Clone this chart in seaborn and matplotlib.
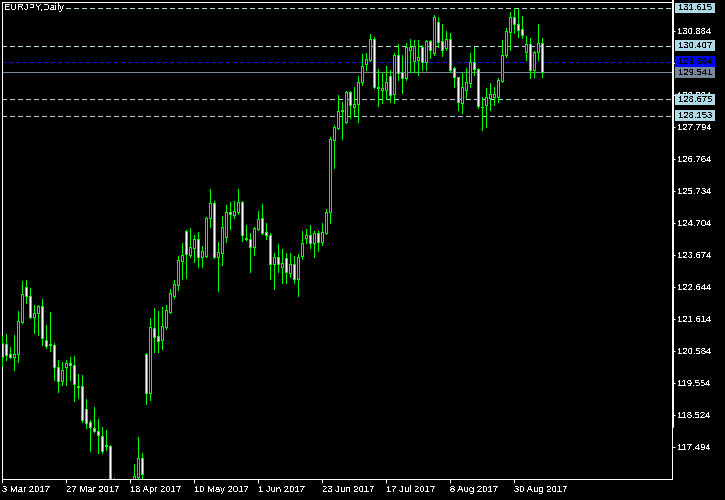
import numpy as np
import matplotlib
matplotlib.use("Agg")
import matplotlib.pyplot as plt
import matplotlib.transforms as mtransforms
from matplotlib.patches import Rectangle
from matplotlib.lines import Line2D
import seaborn as sns

# ---------------- data ----------------
symbol_title = "EURJPY,Daily"

opens = [
    120.83, 120.80, 120.48, 120.38, 120.48, 121.51, 122.64, 122.35, 121.67, 121.80,
    122.02, 120.93, 120.77, 120.77, 120.06, 119.61, 120.06, 120.19, 120.12, 119.45,
    119.45, 118.71, 118.29, 118.10, 118.00, 117.84, 117.52, 117.52, 116.15, 115.85,
    115.45, 115.30, 115.60, 115.95, 116.51, 117.13, 120.47, 119.22, 121.31, 121.06,
    120.93, 121.35, 121.83, 122.35, 122.70, 123.47, 124.44, 123.66, 123.89, 124.18,
    123.60, 123.63, 124.86, 125.34, 123.60, 123.73, 124.24, 125.05, 124.95, 125.05,
    125.37, 124.18, 124.18, 123.92, 124.50, 124.86, 124.41, 124.31, 123.38, 123.60,
    123.28, 123.57, 123.09, 123.38, 122.89, 123.63, 124.21, 124.31, 124.05, 124.37,
    124.08, 124.37, 125.05, 127.37, 127.75, 128.30, 127.94, 128.91, 128.43, 128.52,
    129.23, 129.81, 129.94, 130.62, 129.07, 128.97, 128.97, 129.43, 128.85, 130.10,
    129.55, 129.36, 130.26, 129.91, 129.94, 130.36, 129.88, 130.55, 130.17, 131.16,
    130.55, 130.33, 130.62, 129.68, 129.39, 128.56, 128.97, 129.20, 129.88, 129.65,
    128.43, 128.49, 128.72, 128.75, 128.75, 129.26, 130.10, 130.84, 131.32, 131.10,
    130.94, 130.20, 130.46, 129.62, 130.20, 130.49]

closes = [
    120.38, 120.45, 120.38, 120.48, 121.54, 122.41, 122.35, 121.67, 121.80, 122.02,
    120.99, 120.73, 120.80, 120.06, 119.61, 119.96, 120.19, 120.12, 119.51, 119.42,
    118.35, 118.26, 118.13, 118.00, 117.87, 117.36, 117.55, 116.15, 115.85, 115.45,
    115.30, 115.60, 115.90, 116.55, 117.13, 116.61, 119.22, 121.35, 121.02, 120.90,
    121.38, 121.89, 122.44, 122.73, 123.50, 123.66, 123.70, 123.92, 124.18, 123.60,
    123.79, 124.86, 125.34, 123.60, 123.76, 124.57, 125.05, 124.98, 125.08, 125.37,
    124.31, 124.21, 123.92, 124.53, 124.82, 124.37, 124.31, 123.38, 123.60, 123.38,
    123.41, 123.12, 123.38, 122.89, 123.60, 124.05, 124.31, 124.05, 124.37, 124.08,
    124.41, 125.05, 127.40, 127.78, 128.30, 128.33, 128.91, 128.49, 128.52, 129.23,
    129.75, 129.97, 130.62, 129.07, 129.04, 129.04, 129.23, 128.81, 130.10, 129.52,
    129.36, 130.36, 130.36, 130.39, 130.04, 129.88, 130.55, 130.26, 131.32, 130.52,
    130.26, 130.62, 129.62, 129.39, 128.59, 129.07, 129.23, 129.88, 129.65, 128.46,
    128.42, 128.75, 128.85, 128.85, 129.30, 130.10, 130.87, 131.32, 131.10, 130.91,
    130.75, 130.46, 129.62, 130.20, 130.49, 129.54]

highs = [
    121.06, 121.12, 120.70, 121.09, 121.86, 122.83, 122.86, 122.60, 122.06, 122.06,
    122.25, 121.41, 121.83, 120.83, 120.29, 120.22, 120.29, 120.38, 120.41, 119.83,
    119.80, 119.03, 118.35, 118.77, 118.39, 118.13, 118.03, 117.55, 116.49, 116.20,
    115.90, 116.00, 116.30, 116.94, 117.80, 117.29, 120.51, 121.64, 121.96, 121.86,
    121.99, 122.06, 122.57, 122.86, 123.63, 124.05, 124.46, 124.53, 124.31, 124.41,
    123.95, 124.89, 125.79, 125.40, 124.08, 124.92, 125.27, 125.37, 125.40, 125.79,
    125.40, 124.63, 124.37, 124.57, 125.08, 125.31, 124.70, 124.37, 123.73, 124.02,
    123.86, 123.73, 123.73, 123.63, 123.70, 124.44, 124.50, 124.63, 124.44, 124.44,
    124.70, 125.15, 127.46, 127.85, 128.81, 128.59, 128.94, 128.94, 129.07, 129.43,
    130.13, 130.17, 130.78, 130.68, 129.65, 129.52, 129.75, 129.62, 130.17, 130.46,
    130.10, 130.49, 130.62, 130.58, 130.58, 130.42, 130.58, 130.58, 131.39, 131.32,
    131.10, 130.87, 130.81, 129.72, 129.40, 129.52, 129.68, 130.17, 130.36, 129.68,
    128.75, 129.04, 129.20, 129.07, 129.36, 130.58, 130.97, 131.50, 131.62, 131.58,
    131.36, 130.71, 130.65, 130.22, 131.10, 130.65]

lows = [
    120.09, 120.29, 120.35, 119.96, 120.22, 121.48, 122.12, 121.64, 121.15, 121.09,
    120.77, 120.67, 120.57, 119.64, 119.26, 119.48, 119.48, 119.64, 118.97, 119.06,
    118.29, 118.10, 117.36, 117.97, 117.29, 117.29, 117.39, 115.95, 115.55, 115.20,
    114.90, 115.00, 115.30, 115.80, 116.30, 116.30, 118.87, 119.00, 120.54, 120.54,
    120.64, 121.28, 121.80, 122.28, 122.54, 122.89, 122.92, 123.60, 123.44, 123.28,
    123.28, 123.60, 124.57, 123.57, 122.51, 123.34, 124.08, 124.50, 124.86, 124.98,
    124.12, 124.15, 123.12, 123.66, 124.47, 124.34, 124.18, 122.89, 122.57, 123.12,
    122.76, 122.76, 122.96, 122.76, 122.35, 123.54, 124.05, 123.89, 123.60, 123.79,
    123.99, 124.34, 124.70, 126.46, 127.72, 127.40, 127.91, 128.07, 128.17, 127.94,
    129.14, 129.62, 129.91, 129.04, 128.46, 128.56, 128.69, 128.59, 128.56, 129.30,
    128.88, 129.30, 129.55, 129.55, 129.46, 129.62, 129.62, 130.00, 130.10, 130.36,
    130.07, 130.26, 129.55, 129.07, 128.33, 128.24, 128.72, 129.07, 129.46, 128.40,
    127.69, 127.78, 128.33, 128.49, 128.59, 129.23, 130.04, 130.26, 130.81, 130.68,
    130.65, 129.94, 129.36, 129.39, 129.94, 129.39]

date_tick_bars = [0, 16, 32, 48, 64, 80, 96, 112, 128]
date_tick_labels = ["3 Mar 2017", "27 Mar 2017", "18 Apr 2017", "10 May 2017",
                    "1 Jun 2017", "23 Jun 2017", "17 Jul 2017", "8 Aug 2017",
                    "30 Aug 2017"]

# price-scale ticks; 129.854 sits fully under the blue level label in the
# reference, so only its tick mark is kept
price_ticks = [117.494, 118.524, 119.554, 120.584, 121.614, 122.644, 123.674,
               124.704, 125.734, 126.764, 127.794, 128.824, 129.854, 130.884]
hidden_price_ticks = [129.854]

level_values = [131.615, 130.407, 129.884, 129.541, 128.675, 128.153]
level_kinds = ["dash", "dash", "blue", "bid", "dash", "dash"]

# ---------------- style ----------------
sns.set_theme(style="dark", rc={
    "axes.facecolor": "black", "figure.facecolor": "black",
    "savefig.facecolor": "black", "axes.grid": False,
})
plt.rcParams["font.family"] = ["Liberation Sans", "DejaVu Sans"]
plt.rcParams["text.antialiased"] = False

W, H = 725, 500
PX = 0.72  # one pixel in points at dpi 100
LIME = "#00ff00"
FS = 6.8

fig = plt.figure(figsize=(W / 100, H / 100), dpi=100)
ax = fig.add_axes([2 / W, 1 - 479 / H, 670 / W, 477 / H])
ax.set_facecolor("black")

o = np.array(opens)
c = np.array(closes)
hi = np.array(highs)
lo = np.array(lows)
x = np.arange(len(o))

# horizontal levels (behind the candles)
kind_style = {
    "dash": dict(color="#b8d8e8", dashes=(5, 3)),
    "blue": dict(color="#1010ff", dashes=(4, 3)),
    "bid": dict(color="#778899"),
}
for lv, kd in zip(level_values, level_kinds):
    ax.axhline(lv, lw=PX, zorder=1, antialiased=False, **kind_style[kd])

# candles
ax.vlines(x, lo, hi, colors=LIME, linewidth=PX, antialiased=False, zorder=3)
fills = np.where(c < o, "white", "black")
ax.bar(x, np.abs(c - o), bottom=np.minimum(o, c), width=0.5, color=fills,
       edgecolor=LIME, linewidth=PX, antialiased=False, zorder=4)

ax.set_xlim(-0.075, 167.425)
ax.set_ylim(116.455, 131.808)

for sp in ax.spines.values():
    sp.set_color("white")
    sp.set_linewidth(PX)
    sp.set_visible(True)

ax.yaxis.tick_right()
ax.set_yticks(price_ticks)
ax.set_yticklabels(["" if t in hidden_price_ticks else f"{t:.3f}"
                    for t in price_ticks])
ax.tick_params(axis="y", which="both", right=True, left=False, direction="out",
               length=3 * PX, width=PX, color="white", labelcolor="white",
               labelsize=FS, pad=2)
ax.set_xticks(date_tick_bars)
ax.set_xticklabels(date_tick_labels, ha="left")
ax.tick_params(axis="x", bottom=True, direction="out", length=4 * PX, width=PX,
               color="white", labelcolor="white", labelsize=FS, pad=1.5)
ax.set_xlabel("")
ax.set_ylabel("")

# level labels on the price scale
blend = mtransforms.blended_transform_factory(fig.transFigure, ax.transData)
box_colors = {"dash": "#add8e6", "blue": "#0000ff", "bid": "#778899"}
bh = 0.345
for lv, kd in zip(level_values, level_kinds):
    ax.add_patch(Rectangle((675 / W, lv - bh / 2), 40 / W, bh, transform=blend,
                           facecolor=box_colors[kd], edgecolor="none",
                           clip_on=False, zorder=10))
    ax.text(678 / W, lv, f"{lv:.3f}", transform=blend, ha="left",
            va="center", fontsize=FS, color="black", zorder=11, clip_on=False)

# thick part of the price-scale border
fig.add_artist(Line2D([673 / W, 673 / W], [1, 1 - 427 / H],
                      transform=fig.transFigure, color="white", lw=2 * PX))

# chart title
fig.text(4 / W, 1 - 3.5 / H, symbol_title, color="white", fontsize=FS,
         ha="left", va="top",
         bbox=dict(facecolor="black", edgecolor="none", pad=0.6))

fig.savefig("out.png", dpi=100, facecolor="black")
